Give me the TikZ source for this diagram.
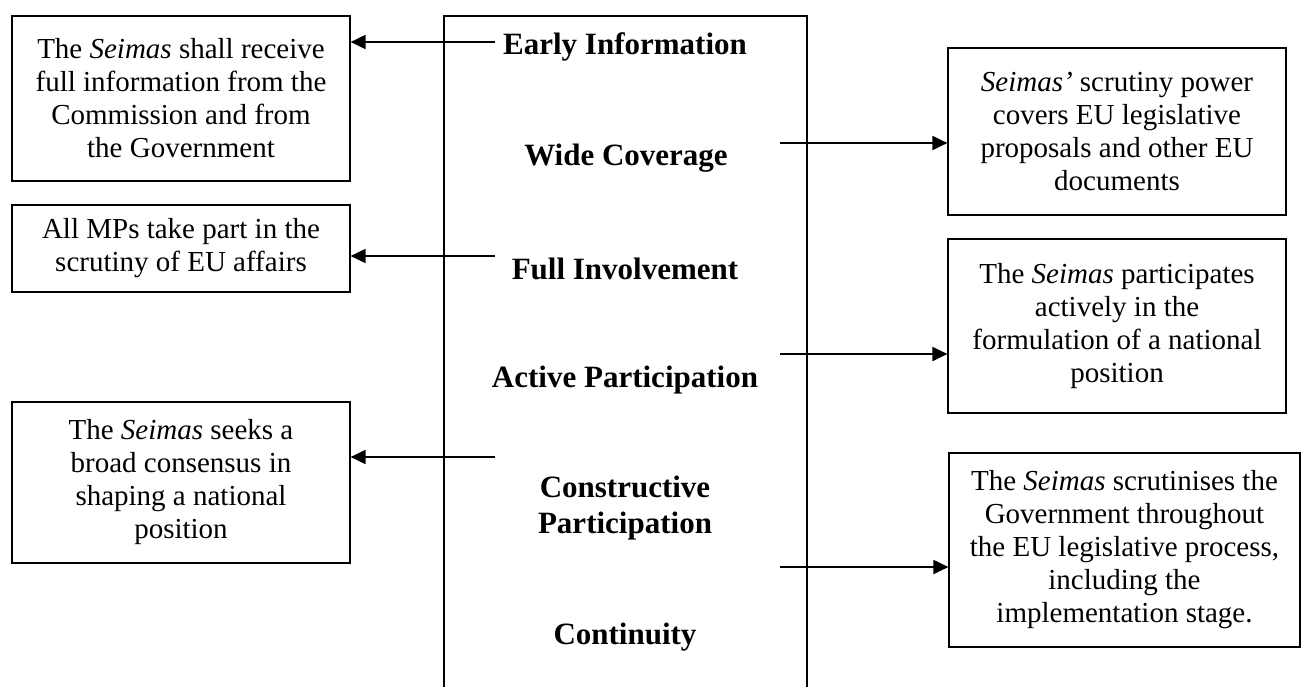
\documentclass[tikz,border=0pt]{standalone}
\usepackage{fontspec}
\setmainfont{Liberation Serif}
\usetikzlibrary{arrows.meta}

\begin{document}
\begin{tikzpicture}[x=0.5pt,y=-0.5pt,
  note/.style={draw, line width=0.6pt, align=center, inner sep=0pt,
    font=\fontsize{14.5}{16.5}\selectfont, minimum width=169pt},
  pillar/.style={align=center, font=\fontsize{15.5}{18}\selectfont\bfseries},
  link/.style={line width=1pt, -{Triangle[length=7.5pt,width=7pt]}}]
\useasboundingbox (0,0) rectangle (1301,686);

% centre column, open at the bottom
\draw[line width=0.6pt] (444,700) -- (444,16) -- (807,16) -- (807,700);

\node[pillar] (early) at (625,47) {Early Information};
\node[pillar] (wide) at (626,158) {Wide Coverage};
\node[pillar] (full) at (625,269) {Full Involvement};
\node[pillar] (active) at (625,380) {Active Participation};
\node[pillar] (constr) at (625,508) {Constructive\\Participation};
\node[pillar] (cont) at (625,637) {Continuity};

% left side
\node[note, minimum height=82.5pt] (info) at (181,98.5)
  {The \textit{Seimas} shall receive\\full information from the\\Commission and from\\the Government};
\node[note, minimum height=43.5pt] (mps) at (181,248.5)
  {All MPs take part in the\\scrutiny of EU affairs};
\node[note, minimum height=80.5pt] (consensus) at (181,482.5)
  {The \textit{Seimas} seeks a\\broad consensus in\\shaping a national\\position};

% right side
\node[note, minimum height=83.5pt] (power) at (1117,131.5)
  {\textit{Seimas'} scrutiny power\\covers EU legislative\\proposals and other EU\\documents};
\node[note, minimum height=87pt] (position) at (1117,326)
  {The \textit{Seimas} participates\\actively in the\\formulation of a national\\position};
\node[note, minimum height=97pt, minimum width=175.5pt] (process) at (1124.5,550)
  {The \textit{Seimas} scrutinises the\\Government throughout\\the EU legislative process,\\including the\\implementation stage.};

\coordinate (s1) at (495,42);
\coordinate (s2) at (495,256);
\coordinate (s3) at (495,457);
\coordinate (t1) at (780,143);
\coordinate (t2) at (780,354);
\coordinate (t3) at (780,567);

\draw[link] (s1) -- (s1 -| info.east);
\draw[link] (s2) -- (s2 -| mps.east);
\draw[link] (s3) -- (s3 -| consensus.east);
\draw[link] (t1) -- (t1 -| power.west);
\draw[link] (t2) -- (t2 -| position.west);
\draw[link] (t3) -- (t3 -| process.west);
\end{tikzpicture}
\end{document}
